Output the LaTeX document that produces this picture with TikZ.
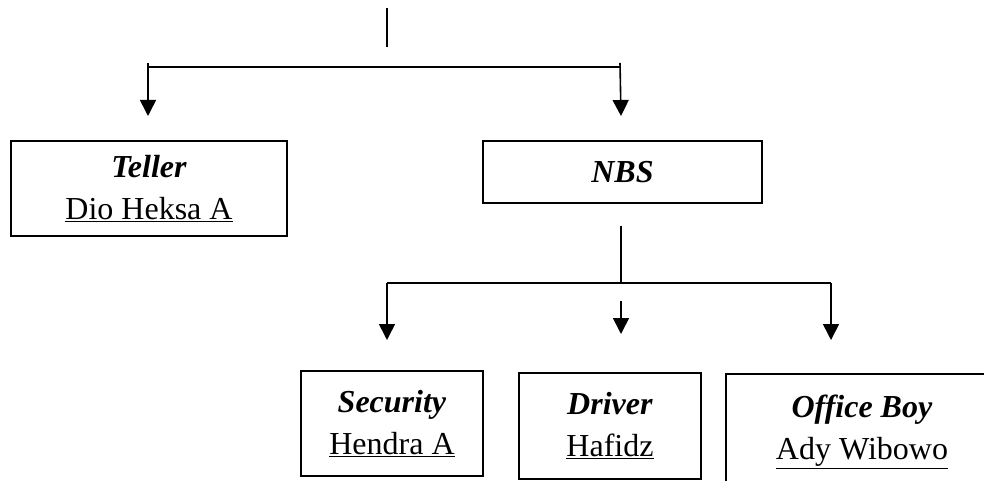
\documentclass[tikz,border=0pt]{standalone}
\usepackage{fontspec}
\setmainfont{Liberation Serif}
\usetikzlibrary{arrows.meta}
\tikzset{
  unit/.style={draw, line width=1.5pt, inner sep=0pt, align=center,
    font=\fontsize{32}{42}\selectfont},
  conn/.style={line width=1.6pt},
  arr/.style={conn, -{Triangle[width=16pt,length=16pt]}}
}
\newcommand{\jabatan}[2]{\textbf{\textit{#1}}\\\underline{#2}}

\begin{document}
\begin{tikzpicture}[x=1pt,y=-1pt]
                \clip (0,0) rectangle (984,481);

                \node[unit, minimum width=276pt, minimum height=95pt] (teller) at (149,188.5) {\jabatan{Teller}{Dio Heksa A}};
                \node[unit, minimum width=279pt, minimum height=62pt] (nbs) at (622.5,172) {\textbf{\textit{NBS}}};
                \node[unit, minimum width=182pt, minimum height=105pt] (security) at (392,423.5) {\jabatan{Security}{Hendra A}};
                \node[unit, minimum width=182pt, minimum height=106pt] (driver) at (610,426) {\jabatan{Driver}{Hafidz}};
                \node[unit, minimum width=272pt, minimum height=116pt] (officeboy) at (862,432) {\jabatan{Office Boy}{Ady Wibowo}};

                \coordinate (top1) at (387,8);
                \coordinate (top2) at (387,47);
                \coordinate (hl) at (148,67);
                \coordinate (hr) at (620,67);
                \coordinate (al) at (148,63);
                \coordinate (ar) at (620,63);
                \coordinate (tl) at (148,116);
                \coordinate (tr) at (621,116);

                \coordinate (n1) at (621,226);
                \coordinate (n2) at (621,283);
                \coordinate (sl) at (387,283);
                \coordinate (sr) at (831,283);
                \coordinate (sm) at (621,301);
                \coordinate (el) at (387,340);
                \coordinate (em) at (621,334);
                \coordinate (er) at (831,340);

                \draw[conn] (top1) -- (top2);
                \draw[conn] (hl) -- (hr);
                \draw[arr] (al) -- (tl);
                \draw[arr] (ar) -- (tr);

                \draw[conn] (n1) -- (n2);
                \draw[conn] (sl) -- (sr);
                \draw[arr] (sl) -- (el);
                \draw[arr] (sm) -- (em);
                \draw[arr] (sr) -- (er);
            \end{tikzpicture}
\end{document}
